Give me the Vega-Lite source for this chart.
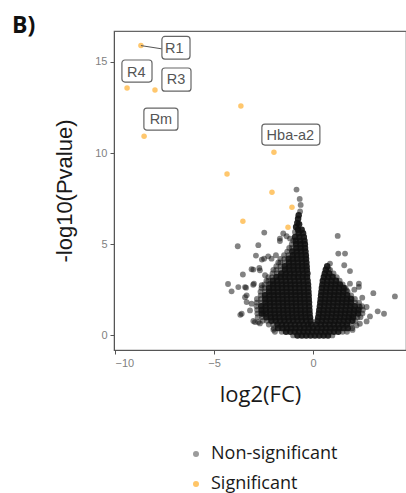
{
"$schema": "https://vega.github.io/schema/vega-lite/v6.json",
"autosize": {"type": "none"},
"width": 292,
"height": 319,
"padding": {"left": 114, "top": 31, "right": 0, "bottom": 143},
"background": "white",
"view": {"stroke": "#666666", "strokeWidth": 1.2},
"title": {"text": "B)", "anchor": "start", "frame": "group", "font": "Open Sans", "fontWeight": "bold", "fontSize": 23, "color": "#111111", "dx": -102, "baseline": "alphabetic", "offset": 0, "dy": 25},
"config": {
  "axis": {"grid": false, "domainColor": "#555555", "tickColor": "#555555", "tickSize": 4, "labelFont": "Liberation Sans", "labelFontSize": 11, "labelColor": "#7f7f7f", "labelPadding": 3, "titleFontWeight": "normal", "titleColor": "#1a1a1a", "titleFontSize": 22}
},
"datasets": {
"core": [
{"x":-0.78,"y":0},{"x":-0.56,"y":0},{"x":-0.34,"y":0},{"x":-0.12,"y":0},{"x":0.1,"y":0},{"x":0.32,"y":0},{"x":0.54,"y":0},{"x":0.76,"y":0},
{"x":-1.36,"y":0.2},{"x":-1.14,"y":0.2},{"x":-0.92,"y":0.2},{"x":-0.7,"y":0.2},{"x":-0.48,"y":0.2},{"x":-0.26,"y":0.2},{"x":-0.04,"y":0.2},{"x":0.18,"y":0.2},{"x":0.4,"y":0.2},{"x":0.62,"y":0.2},{"x":0.84,"y":0.2},{"x":1.06,"y":0.2},{"x":1.28,"y":0.2},
{"x":-1.76,"y":0.4},{"x":-1.54,"y":0.4},{"x":-1.32,"y":0.4},{"x":-1.1,"y":0.4},{"x":-0.88,"y":0.4},{"x":-0.66,"y":0.4},{"x":-0.44,"y":0.4},{"x":-0.22,"y":0.4},{"x":0,"y":0.4},{"x":0.22,"y":0.4},{"x":0.44,"y":0.4},{"x":0.66,"y":0.4},{"x":0.88,"y":0.4},{"x":1.1,"y":0.4},{"x":1.32,"y":0.4},{"x":1.54,"y":0.4},{"x":1.76,"y":0.4},
{"x":-1.79,"y":0.6},{"x":-1.57,"y":0.6},{"x":-1.35,"y":0.6},{"x":-1.13,"y":0.6},{"x":-0.91,"y":0.6},{"x":-0.69,"y":0.6},{"x":-0.47,"y":0.6},{"x":-0.25,"y":0.6},{"x":-0.08,"y":0.6},{"x":0.18,"y":0.6},{"x":0.4,"y":0.6},{"x":0.62,"y":0.6},{"x":0.84,"y":0.6},{"x":1.06,"y":0.6},{"x":1.28,"y":0.6},{"x":1.5,"y":0.6},{"x":1.72,"y":0.6},
{"x":-2.1,"y":0.8},{"x":-1.88,"y":0.8},{"x":-1.66,"y":0.8},{"x":-1.44,"y":0.8},{"x":-1.22,"y":0.8},{"x":-1.0,"y":0.8},{"x":-0.78,"y":0.8},{"x":-0.56,"y":0.8},{"x":-0.34,"y":0.8},{"x":-0.12,"y":0.8},{"x":0.23,"y":0.8},{"x":0.45,"y":0.8},{"x":0.67,"y":0.8},{"x":0.89,"y":0.8},{"x":1.11,"y":0.8},{"x":1.33,"y":0.8},{"x":1.55,"y":0.8},{"x":1.77,"y":0.8},{"x":1.99,"y":0.8},
{"x":-2.35,"y":1.0},{"x":-2.13,"y":1.0},{"x":-1.91,"y":1.0},{"x":-1.69,"y":1.0},{"x":-1.47,"y":1.0},{"x":-1.25,"y":1.0},{"x":-1.03,"y":1.0},{"x":-0.81,"y":1.0},{"x":-0.59,"y":1.0},{"x":-0.37,"y":1.0},{"x":-0.15,"y":1.0},{"x":0.27,"y":1.0},{"x":0.49,"y":1.0},{"x":0.71,"y":1.0},{"x":0.93,"y":1.0},{"x":1.15,"y":1.0},{"x":1.37,"y":1.0},{"x":1.59,"y":1.0},{"x":1.81,"y":1.0},{"x":2.03,"y":1.0},
{"x":-2.59,"y":1.2},{"x":-2.37,"y":1.2},{"x":-2.15,"y":1.2},{"x":-1.93,"y":1.2},{"x":-1.71,"y":1.2},{"x":-1.49,"y":1.2},{"x":-1.27,"y":1.2},{"x":-1.05,"y":1.2},{"x":-0.83,"y":1.2},{"x":-0.61,"y":1.2},{"x":-0.39,"y":1.2},{"x":-0.17,"y":1.2},{"x":0.3,"y":1.2},{"x":0.52,"y":1.2},{"x":0.74,"y":1.2},{"x":0.96,"y":1.2},{"x":1.18,"y":1.2},{"x":1.4,"y":1.2},{"x":1.62,"y":1.2},{"x":1.84,"y":1.2},{"x":2.06,"y":1.2},{"x":2.28,"y":1.2},
{"x":-2.6,"y":1.4},{"x":-2.38,"y":1.4},{"x":-2.16,"y":1.4},{"x":-1.94,"y":1.4},{"x":-1.72,"y":1.4},{"x":-1.5,"y":1.4},{"x":-1.28,"y":1.4},{"x":-1.06,"y":1.4},{"x":-0.84,"y":1.4},{"x":-0.62,"y":1.4},{"x":-0.4,"y":1.4},{"x":-0.18,"y":1.4},{"x":0.32,"y":1.4},{"x":0.54,"y":1.4},{"x":0.76,"y":1.4},{"x":0.98,"y":1.4},{"x":1.2,"y":1.4},{"x":1.42,"y":1.4},{"x":1.64,"y":1.4},{"x":1.86,"y":1.4},{"x":2.08,"y":1.4},{"x":2.3,"y":1.4},
{"x":-2.61,"y":1.6},{"x":-2.39,"y":1.6},{"x":-2.17,"y":1.6},{"x":-1.95,"y":1.6},{"x":-1.73,"y":1.6},{"x":-1.51,"y":1.6},{"x":-1.29,"y":1.6},{"x":-1.07,"y":1.6},{"x":-0.85,"y":1.6},{"x":-0.63,"y":1.6},{"x":-0.41,"y":1.6},{"x":-0.19,"y":1.6},{"x":0.35,"y":1.6},{"x":0.57,"y":1.6},{"x":0.79,"y":1.6},{"x":1.01,"y":1.6},{"x":1.23,"y":1.6},{"x":1.45,"y":1.6},{"x":1.67,"y":1.6},{"x":1.89,"y":1.6},{"x":2.11,"y":1.6},
{"x":-2.4,"y":1.8},{"x":-2.18,"y":1.8},{"x":-1.96,"y":1.8},{"x":-1.74,"y":1.8},{"x":-1.52,"y":1.8},{"x":-1.3,"y":1.8},{"x":-1.08,"y":1.8},{"x":-0.86,"y":1.8},{"x":-0.64,"y":1.8},{"x":-0.42,"y":1.8},{"x":-0.2,"y":1.8},{"x":0.37,"y":1.8},{"x":0.59,"y":1.8},{"x":0.81,"y":1.8},{"x":1.03,"y":1.8},{"x":1.25,"y":1.8},{"x":1.47,"y":1.8},{"x":1.69,"y":1.8},{"x":1.91,"y":1.8},
{"x":-2.41,"y":2.0},{"x":-2.19,"y":2.0},{"x":-1.97,"y":2.0},{"x":-1.75,"y":2.0},{"x":-1.53,"y":2.0},{"x":-1.31,"y":2.0},{"x":-1.09,"y":2.0},{"x":-0.87,"y":2.0},{"x":-0.65,"y":2.0},{"x":-0.43,"y":2.0},{"x":-0.21,"y":2.0},{"x":0.39,"y":2.0},{"x":0.61,"y":2.0},{"x":0.83,"y":2.0},{"x":1.05,"y":2.0},{"x":1.27,"y":2.0},{"x":1.49,"y":2.0},{"x":1.71,"y":2.0},{"x":1.93,"y":2.0},
{"x":-2.42,"y":2.2},{"x":-2.2,"y":2.2},{"x":-1.98,"y":2.2},{"x":-1.76,"y":2.2},{"x":-1.54,"y":2.2},{"x":-1.32,"y":2.2},{"x":-1.1,"y":2.2},{"x":-0.88,"y":2.2},{"x":-0.66,"y":2.2},{"x":-0.44,"y":2.2},{"x":-0.22,"y":2.2},{"x":0.41,"y":2.2},{"x":0.63,"y":2.2},{"x":0.85,"y":2.2},{"x":1.07,"y":2.2},{"x":1.29,"y":2.2},{"x":1.51,"y":2.2},{"x":1.73,"y":2.2},
{"x":-2.21,"y":2.4},{"x":-1.99,"y":2.4},{"x":-1.77,"y":2.4},{"x":-1.55,"y":2.4},{"x":-1.33,"y":2.4},{"x":-1.11,"y":2.4},{"x":-0.89,"y":2.4},{"x":-0.67,"y":2.4},{"x":-0.45,"y":2.4},{"x":-0.23,"y":2.4},{"x":0.43,"y":2.4},{"x":0.65,"y":2.4},{"x":0.87,"y":2.4},{"x":1.09,"y":2.4},{"x":1.31,"y":2.4},{"x":1.53,"y":2.4},
{"x":-2.22,"y":2.6},{"x":-2.0,"y":2.6},{"x":-1.78,"y":2.6},{"x":-1.56,"y":2.6},{"x":-1.34,"y":2.6},{"x":-1.12,"y":2.6},{"x":-0.9,"y":2.6},{"x":-0.68,"y":2.6},{"x":-0.46,"y":2.6},{"x":-0.24,"y":2.6},{"x":0.45,"y":2.6},{"x":0.67,"y":2.6},{"x":0.89,"y":2.6},{"x":1.11,"y":2.6},{"x":1.33,"y":2.6},{"x":1.55,"y":2.6},
{"x":-2.01,"y":2.8},{"x":-1.79,"y":2.8},{"x":-1.57,"y":2.8},{"x":-1.35,"y":2.8},{"x":-1.13,"y":2.8},{"x":-0.91,"y":2.8},{"x":-0.69,"y":2.8},{"x":-0.47,"y":2.8},{"x":-0.25,"y":2.8},{"x":0.48,"y":2.8},{"x":0.7,"y":2.8},{"x":0.92,"y":2.8},{"x":1.14,"y":2.8},{"x":1.36,"y":2.8},
{"x":-2.03,"y":3.0},{"x":-1.81,"y":3.0},{"x":-1.59,"y":3.0},{"x":-1.37,"y":3.0},{"x":-1.15,"y":3.0},{"x":-0.93,"y":3.0},{"x":-0.71,"y":3.0},{"x":-0.49,"y":3.0},{"x":-0.27,"y":3.0},{"x":0.5,"y":3.0},{"x":0.72,"y":3.0},{"x":0.94,"y":3.0},{"x":1.16,"y":3.0},
{"x":-1.84,"y":3.2},{"x":-1.62,"y":3.2},{"x":-1.4,"y":3.2},{"x":-1.18,"y":3.2},{"x":-0.96,"y":3.2},{"x":-0.74,"y":3.2},{"x":-0.52,"y":3.2},{"x":-0.3,"y":3.2},{"x":0.55,"y":3.2},{"x":0.77,"y":3.2},{"x":0.99,"y":3.2},
{"x":-1.6,"y":3.4},{"x":-1.38,"y":3.4},{"x":-1.16,"y":3.4},{"x":-0.94,"y":3.4},{"x":-0.72,"y":3.4},{"x":-0.5,"y":3.4},{"x":-0.28,"y":3.4},{"x":0.6,"y":3.4},{"x":0.82,"y":3.4},
{"x":-1.41,"y":3.6},{"x":-1.19,"y":3.6},{"x":-0.97,"y":3.6},{"x":-0.75,"y":3.6},{"x":-0.53,"y":3.6},{"x":-0.31,"y":3.6},{"x":0.65,"y":3.6},
{"x":-1.42,"y":3.8},{"x":-1.2,"y":3.8},{"x":-0.98,"y":3.8},{"x":-0.76,"y":3.8},{"x":-0.54,"y":3.8},{"x":-0.32,"y":3.8},{"x":0.72,"y":3.8},
{"x":-1.21,"y":4.0},{"x":-0.99,"y":4.0},{"x":-0.77,"y":4.0},{"x":-0.55,"y":4.0},{"x":-0.33,"y":4.0},
{"x":-1.23,"y":4.2},{"x":-1.01,"y":4.2},{"x":-0.79,"y":4.2},{"x":-0.57,"y":4.2},{"x":-0.35,"y":4.2},
{"x":-1.02,"y":4.4},{"x":-0.8,"y":4.4},{"x":-0.58,"y":4.4},{"x":-0.36,"y":4.4},
{"x":-1.04,"y":4.6},{"x":-0.82,"y":4.6},{"x":-0.6,"y":4.6},{"x":-0.38,"y":4.6},
{"x":-0.84,"y":4.8},{"x":-0.62,"y":4.8},{"x":-0.4,"y":4.8},
{"x":-0.85,"y":5.0},{"x":-0.63,"y":5.0},{"x":-0.41,"y":5.0},
{"x":-0.87,"y":5.2},{"x":-0.65,"y":5.2},{"x":-0.43,"y":5.2},
{"x":-0.9,"y":5.4},{"x":-0.68,"y":5.4},{"x":-0.46,"y":5.4},
{"x":-0.72,"y":5.6},{"x":-0.5,"y":5.6},
{"x":-0.75,"y":5.8},{"x":-0.57,"y":5.8},
{"x":-0.85,"y":5.95},{"x":-0.7,"y":6.1},{"x":-0.79,"y":6.17},{"x":-0.75,"y":6.4},{"x":-0.72,"y":6.59}
],
"halo": [
{"x":-1.0,"y":0},{"x":0.98,"y":0},{"x":-1.58,"y":0.2},{"x":1.5,"y":0.2},{"x":1.72,"y":0.2},{"x":-1.98,"y":0.4},{"x":1.98,"y":0.4},{"x":-2.01,"y":0.6},{"x":-2.23,"y":0.6},{"x":1.94,"y":0.6},
{"x":-2.32,"y":0.8},{"x":-2.54,"y":0.8},{"x":2.15,"y":0.8},{"x":-2.57,"y":1.0},{"x":-2.79,"y":1.0},{"x":2.25,"y":1.0},{"x":2.4,"y":1.0},{"x":-2.81,"y":1.2},{"x":2.5,"y":1.2},
{"x":-2.82,"y":1.4},{"x":2.52,"y":1.4},{"x":-2.85,"y":1.6},{"x":2.33,"y":1.6},{"x":2.48,"y":1.6},{"x":-2.62,"y":1.8},{"x":-2.84,"y":1.8},{"x":2.13,"y":1.8},{"x":2.33,"y":1.8},
{"x":-2.63,"y":2.0},{"x":-2.83,"y":2.0},{"x":2.12,"y":2.0},{"x":-2.64,"y":2.2},{"x":1.93,"y":2.2},{"x":-2.43,"y":2.4},{"x":-2.65,"y":2.4},{"x":1.75,"y":2.4},
{"x":-2.44,"y":2.6},{"x":-2.6,"y":2.6},{"x":1.65,"y":2.6},{"x":-2.23,"y":2.8},{"x":-2.45,"y":2.8},{"x":1.5,"y":2.8},{"x":-2.25,"y":3.0},{"x":-2.35,"y":3.0},{"x":1.35,"y":3.0},
{"x":-2.06,"y":3.2},{"x":-2.25,"y":3.2},{"x":1.2,"y":3.2},{"x":-1.82,"y":3.4},{"x":-2.04,"y":3.4},{"x":1.04,"y":3.4},{"x":-1.63,"y":3.6},{"x":-1.85,"y":3.6},{"x":-2.0,"y":3.6},{"x":0.87,"y":3.6},
{"x":-1.64,"y":3.8},{"x":-1.85,"y":3.8},{"x":-1.43,"y":4.0},{"x":-1.65,"y":4.0},{"x":-1.75,"y":4.0},{"x":-1.45,"y":4.2},{"x":-1.65,"y":4.2},{"x":-1.24,"y":4.4},{"x":-1.46,"y":4.4},
{"x":-1.3,"y":4.6},{"x":-1.06,"y":4.8},{"x":-1.2,"y":4.8},{"x":-1.07,"y":5.0},{"x":-1.0,"y":5.2},
{"x":-0.65,"y":6.8},{"x":-0.62,"y":7.16},{"x":-0.67,"y":7.49},{"x":-0.83,"y":8.0},
{"x":-1.67,"y":5.31},{"x":-1.5,"y":5.59},{"x":-1.16,"y":5.31},{"x":-0.91,"y":5.68},{"x":-1.33,"y":5.44},{"x":-1.67,"y":5.18},{"x":-2.09,"y":4.21},{"x":-1.87,"y":4.4},
{"x":-2.46,"y":5.64},{"x":-3.8,"y":4.89},{"x":-2.76,"y":4.95},{"x":-2.88,"y":4.38},{"x":-2.47,"y":4.21},{"x":-2.58,"y":4.16},{"x":-2.26,"y":4.34},
{"x":-3.54,"y":3.34},{"x":-3.1,"y":3.63},{"x":-3.01,"y":3.61},{"x":-2.71,"y":3.7},{"x":-2.68,"y":3.57},{"x":-2.42,"y":3.3},{"x":-2.59,"y":2.75},{"x":-2.17,"y":2.84},
{"x":-3.02,"y":2.78},{"x":-2.98,"y":2.84},{"x":-3.43,"y":2.65},{"x":-3.38,"y":2.62},{"x":-3.77,"y":2.65},{"x":-3.35,"y":2.2},{"x":-3.43,"y":2.1},{"x":-3.35,"y":1.83},{"x":-3.1,"y":1.74},{"x":-3.18,"y":1.37},{"x":-2.51,"y":1.19},
{"x":-3.6,"y":1.19},{"x":-3.67,"y":1.13},{"x":-4.29,"y":2.82},{"x":-4.11,"y":2.42},{"x":-3.01,"y":0.79},{"x":-2.93,"y":0.73},{"x":-2.76,"y":0.73},{"x":-2.68,"y":0.66},{"x":-2.0,"y":0.31},{"x":-1.92,"y":0.2},
{"x":1.25,"y":5.46},{"x":1.28,"y":4.49},{"x":1.62,"y":4.49},{"x":0.86,"y":3.94},{"x":0.79,"y":3.63},{"x":1.58,"y":3.85},{"x":1.87,"y":3.53},{"x":1.87,"y":2.84},{"x":2.32,"y":2.84},{"x":2.32,"y":2.66},
{"x":2.09,"y":2.51},{"x":1.7,"y":2.47},{"x":3.05,"y":2.32},{"x":4.14,"y":2.14},{"x":2.49,"y":2.07},{"x":3.27,"y":1.32},{"x":3.59,"y":1.19},{"x":2.88,"y":1.04},{"x":2.71,"y":0.77},{"x":2.2,"y":0.55},{"x":1.95,"y":1.0},{"x":2.37,"y":1.56},{"x":2.71,"y":1.56},{"x":2.37,"y":0.64},{"x":2.0,"y":0.3}
],
"sig": [
{"x":-8.69,"y":15.9},{"x":-9.39,"y":13.57},{"x":-7.98,"y":13.46},{"x":-8.53,"y":10.93},{"x":-3.64,"y":12.58},{"x":-1.97,"y":10.05},{"x":-4.34,"y":8.85},{"x":-2.07,"y":7.86},{"x":-1.06,"y":7.03},{"x":-3.54,"y":6.26},{"x":-1.26,"y":5.93}
],
"lab": [
{"t":"R1","x":-7.0,"y":15.72,"x1":-7.63,"x2":-6.21,"y1":15.16,"y2":16.4,"px":-8.69,"py":15.9},
{"t":"R4","x":-8.92,"y":14.42,"x1":-9.65,"x2":-8.13,"y1":13.9,"y2":15.11},
{"t":"R3","x":-6.92,"y":14.0,"x1":-7.63,"x2":-6.16,"y1":13.4,"y2":14.67},
{"t":"Rm","x":-7.68,"y":11.82,"x1":-8.54,"x2":-6.82,"y1":11.26,"y2":12.47},
{"t":"Hba-a2","x":-1.14,"y":10.96,"x1":-2.58,"x2":0.35,"y1":10.44,"y2":11.59}
]
},
"layer": [
{
"data": {"name": "halo"},
"mark": {"type": "point", "filled": true, "size": 34, "opacity": 0.52},
"encoding": {
"x": {"field": "x", "type": "quantitative", "scale": {"domain": [-10.05, 4.7], "nice": false, "zero": false}, "axis": {"values": [-10, -5, 0], "title": "log2(FC)", "titleFont": "Open Sans", "titlePadding": 16}},
"y": {"field": "y", "type": "quantitative", "scale": {"domain": [-0.8, 16.7], "nice": false, "zero": false}, "axis": {"values": [0, 5, 10, 15], "title": "-log10(Pvalue)", "titleFont": "Liberation Sans", "titlePadding": 18}},
"color": {"datum": "Non-significant", "type": "nominal", "scale": {"domain": ["Non-significant", "Significant"], "range": ["#111111", "#FFA91F"]}, "legend": {"orient": "none", "legendX": 73, "legendY": 414, "title": null, "labelFont": "Open Sans", "labelFontSize": 18, "labelColor": "#1a1a1a", "symbolType": "circle", "symbolSize": 36, "symbolOpacity": 0.5, "rowPadding": 12, "labelOffset": 6, "encode": {"symbols": {"update": {"opacity": {"signal": "datum.label == 'Significant' ? 0.68 : 0.42"}}}}}}
}
},
{
"data": {"name": "core"},
"mark": {"type": "point", "filled": true, "size": 42, "opacity": 0.9},
"encoding": {
"x": {"field": "x", "type": "quantitative"},
"y": {"field": "y", "type": "quantitative"},
"color": {"datum": "Non-significant", "type": "nominal"}
}
},
{
"data": {"name": "sig"},
"mark": {"type": "point", "filled": true, "size": 30, "opacity": 0.65},
"encoding": {
"x": {"field": "x", "type": "quantitative"},
"y": {"field": "y", "type": "quantitative"},
"color": {"datum": "Significant", "type": "nominal"}
}
},
{
"data": {"name": "lab"},
"transform": [{"filter": "datum.px != null"}],
"mark": {"type": "rule", "color": "#555555", "strokeWidth": 1},
"encoding": {
"x": {"field": "px", "type": "quantitative"},
"y": {"field": "py", "type": "quantitative"},
"x2": {"field": "x1"},
"y2": {"field": "y"}
}
},
{
"data": {"name": "lab"},
"mark": {"type": "rect", "fill": "white", "stroke": "#666666", "strokeWidth": 1.2, "cornerRadius": 3},
"encoding": {
"x": {"field": "x1", "type": "quantitative"},
"x2": {"field": "x2"},
"y": {"field": "y1", "type": "quantitative"},
"y2": {"field": "y2"}
}
},
{
"data": {"name": "lab"},
"mark": {"type": "text", "font": "Liberation Sans", "fontSize": 14.5, "color": "#555555", "align": "center", "baseline": "middle"},
"encoding": {
"x": {"field": "x", "type": "quantitative"},
"y": {"field": "y", "type": "quantitative"},
"text": {"field": "t"}
}
}
]
}
